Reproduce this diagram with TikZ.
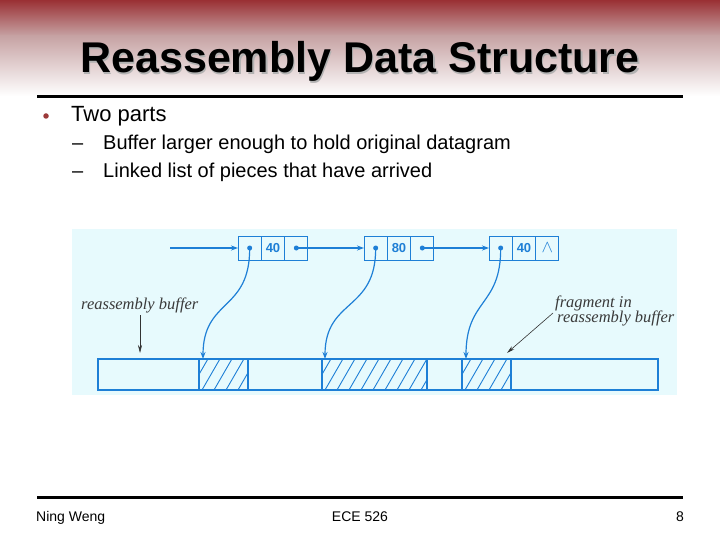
\documentclass[tikz,border=0pt]{standalone}
\usepackage{fontspec}
\setmainfont{Liberation Sans}
\newfontfamily\serifit{Liberation Serif}
\usetikzlibrary{arrows.meta,calc}
\definecolor{dred}{HTML}{9A3034}
\definecolor{mred}{HTML}{C6A2A3}
\definecolor{lblue}{HTML}{1E7FD6}
\definecolor{pale}{HTML}{E7FAFD}
\definecolor{lblgray}{HTML}{3A3A3A}
\definecolor{bulletred}{HTML}{9C3A3A}
\tikzset{
  cell/.style={draw=lblue,line width=1pt,minimum width=23.33pt,minimum height=24pt,inner sep=0pt,outer sep=0pt,anchor=west,
    text=lblue,font=\fontsize{13}{13}\selectfont\bfseries},
  seg/.style={draw=lblue,line width=1.2pt,minimum height=31pt,inner sep=0pt,outer sep=0pt,anchor=west},
  hline/.style={draw=lblue,line width=0.9pt},
  dotn/.style={circle,fill=lblue,inner sep=0pt,minimum size=5pt},
  barrow/.style={draw=lblue,line width=1.2pt,-{Stealth[length=7pt,width=5pt]}},
  karrow/.style={draw=black!80,line width=0.6pt,-{Stealth[length=8pt,width=4pt]}},
  lbl/.style={font=\serifit\itshape\fontsize{16.5}{16.5}\selectfont,text=lblgray,inner sep=0pt},
}
\begin{document}
\begin{tikzpicture}[x=1pt,y=-1pt]
\useasboundingbox (0,0) rectangle (720,540);
\fill[white] (0,0) rectangle (720,540);
% header gradient
\shade[top color=dred,bottom color=mred] (0,0) rectangle (720,36);
\shade[top color=mred,bottom color=white] (0,35.5) rectangle (720,96);
% title
\node[anchor=base,font=\fontsize{43}{43}\selectfont\bfseries,text=black!30] at (361.5,74.5) {Reassembly Data Structure};
\node[anchor=base,font=\fontsize{43}{43}\selectfont\bfseries] (title) at (360,73) {Reassembly Data Structure};
\draw[line width=3pt] (37,97) -- (683,97);
% bullets
\node[circle,fill=bulletred,inner sep=0pt,minimum size=5.5pt] (b0) at (46,116) {};
\node[anchor=base west,inner sep=0pt,font=\fontsize{22}{22}\selectfont] (t0) at (71,122) {Two parts};
\node[anchor=base west,inner sep=0pt,font=\fontsize{20}{20}\selectfont] (d1) at (72,150) {–};
\node[anchor=base west,inner sep=0pt,font=\fontsize{20}{20}\selectfont] (t1) at (103,150) {Buffer larger enough to hold original datagram};
\node[anchor=base west,inner sep=0pt,font=\fontsize{20}{20}\selectfont] (d2) at (72,178) {–};
\node[anchor=base west,inner sep=0pt,font=\fontsize{20}{20}\selectfont] (t2) at (103,178) {Linked list of pieces that have arrived};
% diagram background
\fill[pale] (72,229) rectangle (677,395);
% linked list nodes
\node[cell] (c11) at (238,248) {};
\node[cell] (c12) at (c11.east) {40};
\node[cell] (c13) at (c12.east) {};
\node[cell] (c21) at (364,248) {};
\node[cell] (c22) at (c21.east) {80};
\node[cell] (c23) at (c22.east) {};
\node[cell] (c31) at (489,248) {};
\node[cell] (c32) at (c31.east) {40};
\node[cell,font=\fontsize{16}{16}\selectfont] (c33) at (c32.east) {$\wedge$};
\node[dotn] (p11) at (c11.center) {};
\node[dotn] (p13) at (c13.center) {};
\node[dotn] (p21) at (c21.center) {};
\node[dotn] (p23) at (c23.center) {};
\node[dotn] (p31) at (c31.center) {};
% buffer
\node[seg,minimum width=101pt] (s1) at (98,374.5) {};
\node[seg,minimum width=49pt] (s2) at (s1.east) {};
\node[seg,minimum width=74pt] (s3) at (s2.east) {};
\node[seg,minimum width=105pt] (s4) at (s3.east) {};
\node[seg,minimum width=35pt] (s5) at (s4.east) {};
\node[seg,minimum width=49pt] (s6) at (s5.east) {};
\node[seg,minimum width=147pt] (s7) at (s6.east) {};
% hatching
\foreach \s/\n in {s2/5,s4/9,s6/5}{
  \begin{scope}
    \clip (\s.south west) rectangle (\s.north east);
    \foreach \i in {-1,...,\n}
      \draw[hline] ($(\s.south west)+(\i*12+3,0)$) -- ++(17.9,-31);
  \end{scope}
}
% arrows along list
\coordinate (start) at (170,248);
\draw[barrow] (start) -- (c11.west);
\draw[barrow] (p13.center) -- (c21.west);
\draw[barrow] (p23.center) -- (c31.west);
% curved pointers
\coordinate (e1) at ($(s2.north west)+(4,0)$);
\coordinate (e2) at ($(s4.north west)+(3,0)$);
\coordinate (e3) at ($(s6.north west)+(4,0)$);
\draw[barrow] (p11.center) .. controls (250,312) and (203,298) .. (e1);
\draw[barrow] (p21.center) .. controls (376,312) and (325,298) .. (e2);
\draw[barrow] (p31.center) .. controls (501,307) and (466,298) .. (e3);
% labels
\node[lbl,anchor=base west] (lb1) at (81,309) {reassembly buffer};
\node[lbl,anchor=base west] (lb2) at (555,307) {fragment in};
\node[lbl,anchor=base west] (lb3) at (557,322) {reassembly buffer};
\coordinate (k1a) at (140,315);
\coordinate (k1b) at (140,353);
\draw[karrow] (k1a) -- (k1b);
\coordinate (k2a) at (553,313);
\coordinate (k2b) at (507,353);
\draw[karrow] (k2a) -- (k2b);
% footer
\draw[line width=3pt] (37,497) -- (683,497);
\node[anchor=base west,inner sep=0pt,font=\fontsize{14}{14}\selectfont] (f1) at (36,521) {Ning Weng};
\node[anchor=base,inner sep=0pt,font=\fontsize{14}{14}\selectfont] (f2) at (360,521) {ECE 526};
\node[anchor=base east,inner sep=0pt,font=\fontsize{14}{14}\selectfont] (f3) at (684,521) {8};
\end{tikzpicture}
\end{document}
